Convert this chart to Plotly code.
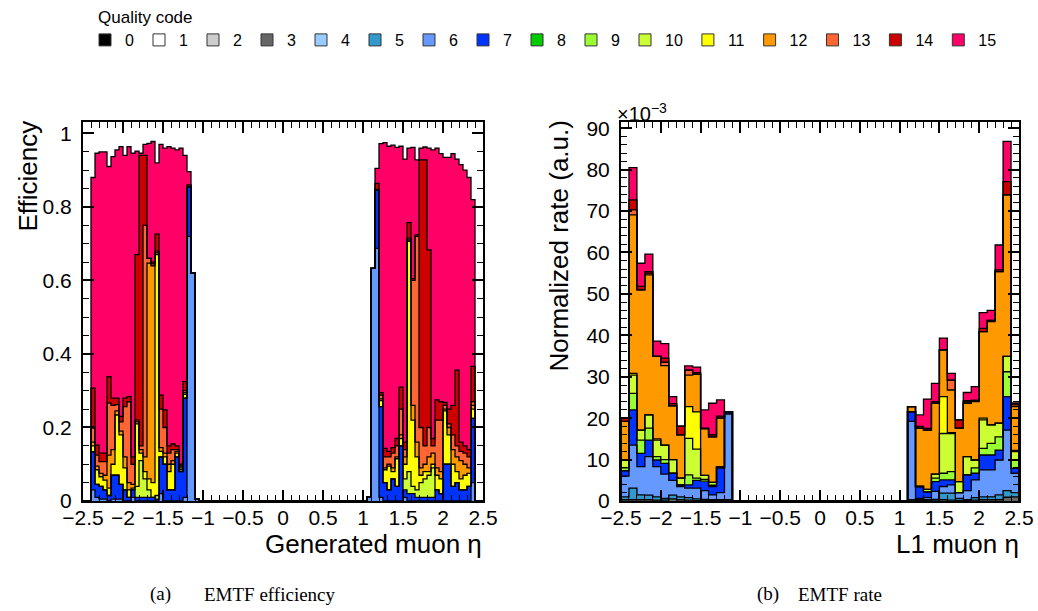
import numpy as np
import plotly.graph_objects as go

# ---------------- colours of the quality codes ----------------
QUALITY_CODES = list(range(16))
QUALITY_COLORS = ["#000000", "#ffffff", "#cccccc", "#666666", "#99ccff", "#3399cc",
                  "#6699ff", "#0033ff", "#00cc00", "#99ff33", "#ccff33", "#ffff00",
                  "#ff9900", "#ff6633", "#cc0000", "#ff0066"]

# ---------------- (a) efficiency: 0.05 wide bins, lower bin edges ----------------
EFF_BIN_WIDTH = 0.05
EFF_ETA = [-2.40, -2.35, -2.30, -2.25, -2.20, -2.15, -2.10, -2.05, -2.00, -1.95,
           -1.90, -1.85, -1.80, -1.75, -1.70, -1.65, -1.60, -1.55, -1.50, -1.45,
           -1.40, -1.35, -1.30, -1.25, -1.20, -1.15, -1.10,
           1.05, 1.10, 1.15, 1.20, 1.25, 1.30, 1.35, 1.40, 1.45, 1.50,
           1.55, 1.60, 1.65, 1.70, 1.75, 1.80, 1.85, 1.90, 1.95, 2.00,
           2.05, 2.10, 2.15, 2.20, 2.25, 2.30, 2.35]
# stack level (cumulative efficiency) reached after each quality code
EFF_UPTO_Q6 = [.03, .01, .005, .005, 0, .005, .005, .005, 0, 0,
               .01, 0, 0, 0, 0, 0, 0, .02, 0, 0,
               0, 0, 0, .01, .72, .62, .006,
               .012, .633, .687, .01, 0, 0, 0, 0, 0, .01,
               0, 0, 0, 0, 0, 0, 0, 0, 0, 0,
               0, 0, 0, 0, 0, 0, .05]
EFF_UPTO_Q7 = [.134, .045, .04, .03, .015, .07, .07, .045, .03, .01,
               .03, .01, .01, .01, .01, .01, .005, .12, .10, .03,
               .03, .12, .08, .28, .855, .62, .006,
               .012, .633, .846, .257, .05, .03, .06, .04, .15, .03,
               .02, .02, .01, .01, .01, .01, .01, .03, .02, .10,
               .10, .04, .05, .03, .03, .04, .225]
EFF_UPTO_Q10 = [.134, .045, .04, .03, .015, .07, .07, .045, .03, .01,
                .03, .04, .11, .06, .03, .01, .015, .12, .10, .03,
                .03, .12, .08, .28, .855, .62, .006,
                .012, .633, .846, .257, .05, .03, .06, .04, .15, .06,
                .08, .04, .03, .05, .06, .07, .09, .03, .02, .10,
                .10, .04, .05, .03, .03, .04, .225]
EFF_UPTO_Q11 = [.15, .085, .066, .057, .035, .10, .234, .18, .09, .03,
                .035, .21, .13, .08, .06, .05, .67, .135, .12, .08,
                .10, .13, .085, .29, .855, .62, .006,
                .012, .633, .846, .273, .085, .095, .08, .115, .17, .10,
                .706, .22, .12, .07, .08, .08, .10, .07, .06, .245,
                .18, .10, .08, .06, .07, .075, .25]
EFF_UPTO_Q12 = [.16, .095, .075, .07, .125, .14, .245, .19, .12, .05,
                .045, .215, .14, .12, .647, .64, .675, .145, .13, .10,
                .11, .135, .09, .295, .855, .62, .006,
                .012, .633, .846, .278, .09, .10, .09, .12, .18, .12,
                .71, .26, .16, .09, .10, .12, .13, .09, .08, .25,
                .20, .14, .12, .11, .10, .09, .26]
EFF_UPTO_Q13 = [.198, .125, .107, .107, .266, .26, .262, .215, .257, .27,
                .10, .22, .15, .75, .66, .645, .68, .25, .20, .13,
                .14, .14, .095, .30, .855, .62, .006,
                .012, .633, .846, .288, .12, .12, .13, .15, .25, .14,
                .715, .60, .72, .20, .15, .20, .15, .22, .22, .26,
                .21, .18, .15, .135, .13, .12, .27]
EFF_UPTO_Q14 = [.307, .152, .13, .13, .338, .28, .28, .23, .28, .284,
                .12, .67, .94, .94, .66, .65, .726, .288, .248, .15,
                .155, .15, .10, .325, .86, .62, .006,
                .012, .633, .864, .295, .143, .135, .145, .17, .31, .16,
                .757, .605, .724, .928, .928, .683, .17, .275, .27, .268,
                .25, .26, .356, .16, .15, .14, .366]
EFF_UPTO_Q15 = [.88, .946, .95, .95, .91, .937, .955, .964, .94, .964,
                .946, .952, .946, .97, .973, .978, .92, .97, .96, .964,
                .96, .955, .96, .94, .896, .62, .006,
                .012, .633, .905, .972, .975, .965, .968, .962, .965, .93,
                .96, .962, .928, .96, .963, .96, .955, .96, .945, .935,
                .935, .945, .93, .915, .90, .88, .82]

# ---------------- (b) rate (units of 1e-3): 0.1 wide bins, lower bin edges ----------------
RATE_BIN_WIDTH = 0.1
RATE_ETA = [-2.5, -2.4, -2.3, -2.2, -2.1, -2.0, -1.9, -1.8, -1.7, -1.6, -1.5, -1.4, -1.3, -1.2,
            1.1, 1.2, 1.3, 1.4, 1.5, 1.6, 1.7, 1.8, 1.9, 2.0, 2.1, 2.2, 2.3, 2.4]
RATE_UPTO_Q3 = [.3, .3, .3, .3, .2, .2, .5, .3, .2, .1, .1, .1, .1, 0,
                0, .1, .1, .2, .3, .2, .1, .1, .2, .3, .3, .3, .9, 1.0]
RATE_UPTO_Q5 = [1.0, 3.1, 1.5, 1.4, 1.0, .6, 1.4, 1.0, .8, .5, .4, .3, .3, .3,
                .3, .3, .3, .4, 1.9, 1.9, .6, .3, .8, 1.0, 1.0, 1.5, 2.5, 2.0]
RATE_UPTO_Q6 = [6.0, 13.5, 8.3, 10.7, 8.3, 6.5, 5.0, 3.5, 3.1, 3.1, 2.5, 1.5, 2.0, 21.0,
                19.2, .6, .8, 2.3, 3.5, 3.9, 2.0, 2.5, 5.1, 7.5, 7.5, 9.9, 17.1, 6.7]
RATE_UPTO_Q7 = [7.3, 22.0, 11.5, 14.7, 9.9, 9.1, 6.7, 3.9, 3.9, 5.0, 4.8, 3.5, 8.0, 21.6,
                21.6, 3.5, 2.2, 4.7, 5.1, 5.1, 2.0, 6.3, 6.7, 11.1, 11.1, 12.3, 25.2, 7.9]
RATE_UPTO_Q9 = [8.0, 26.0, 14.7, 17.6, 10.7, 10.0, 6.7, 3.9, 6.3, 5.5, 5.2, 3.8, 8.0, 21.6,
                21.6, 3.5, 2.2, 5.5, 6.7, 7.1, 2.0, 6.3, 8.0, 12.7, 13.9, 15.5, 31.2, 9.9]
RATE_UPTO_Q10 = [9.9, 30.4, 17.1, 20.8, 14.7, 13.5, 10.0, 5.5, 15.1, 12.5, 6.2, 4.5, 8.3, 21.6,
                 21.6, 3.5, 2.8, 6.5, 16.3, 16.3, 4.7, 10.7, 9.9, 19.6, 18.4, 18.8, 34.9, 11.9]
RATE_UPTO_Q11 = [9.9, 30.8, 17.1, 20.8, 15.0, 13.5, 10.0, 5.5, 22.8, 21.5, 6.2, 4.5, 8.3, 21.6,
                 21.6, 3.5, 2.8, 6.5, 25.2, 16.5, 4.7, 10.7, 9.9, 20.0, 18.4, 18.8, 34.9, 12.2]
RATE_UPTO_Q12 = [19.2, 69.1, 51.0, 54.6, 34.9, 32.7, 23.0, 16.0, 30.4, 30.6, 17.5, 15.5, 20.0, 21.6,
                 22.8, 17.6, 17.1, 23.6, 36.5, 26.8, 17.6, 23.6, 24.0, 40.9, 43.3, 55.4, 73.9, 22.8]
RATE_UPTO_Q13 = [19.2, 70.3, 51.0, 55.0, 34.9, 33.5, 23.0, 16.0, 31.6, 30.6, 17.5, 15.5, 20.0, 21.6,
                 22.8, 17.6, 17.1, 23.6, 36.5, 29.2, 17.6, 23.9, 24.3, 40.9, 43.6, 55.4, 73.9, 23.2]
RATE_UPTO_Q14 = [20.0, 72.7, 51.8, 55.4, 34.9, 34.5, 23.5, 18.1, 31.6, 31.0, 17.5, 16.0, 20.5, 21.6,
                 22.8, 18.0, 17.5, 24.0, 36.5, 29.2, 19.6, 24.2, 24.3, 41.7, 43.6, 55.8, 77.1, 23.6]
RATE_UPTO_Q15 = [20.0, 80.5, 57.4, 59.6, 38.6, 38.0, 25.2, 18.1, 32.6, 32.3, 22.0, 23.6, 24.4, 21.6,
                 22.8, 20.8, 24.6, 28.4, 39.3, 30.8, 19.6, 26.2, 27.6, 45.5, 46.0, 61.8, 86.8, 23.6]

# ---------------- text ----------------
LEGEND_TITLE = "Quality code"
EFF_XTITLE = "Generated muon η"
EFF_YTITLE = "Efficiency"
RATE_XTITLE = "L1 muon η"
RATE_YTITLE = "Normalized rate (a.u.)"
RATE_EXPONENT = "×10<sup>−3</sup>"
CAPTION_A = ("(a)", "EMTF efficiency")
CAPTION_B = ("(b)", "EMTF rate")

FONT = "Liberation Sans"


def full_levels(eta_lo, levels_by_q, width):
    """Put the stack levels of the filled bins into a full -2.5..2.5 histogram."""
    nb = int(round(5.0 / width))
    edges = -2.5 + width * np.arange(nb + 1)
    out = {}
    for q, lev in levels_by_q.items():
        arr = np.zeros(nb)
        for e, v in zip(eta_lo, lev):
            arr[int(round((e + 2.5) / width))] = v
        out[q] = arr
    return edges, out


def add_stack(fig, eta_lo, levels_by_q, width, xaxis, yaxis):
    edges, lev = full_levels(eta_lo, levels_by_q, width)
    centers = 0.5 * (edges[:-1] + edges[1:])
    qs = sorted(lev)
    prev = np.zeros(len(centers))
    for q in qs:
        content = np.clip(lev[q] - prev, 0, None)
        fig.add_trace(go.Bar(x=centers, y=content, width=width, xaxis=xaxis, yaxis=yaxis,
                             marker=dict(color=QUALITY_COLORS[q], line=dict(width=0)),
                             showlegend=False, hoverinfo="skip", legendgroup=str(q)))
        prev = np.maximum(prev, lev[q])
    # ROOT-like step outline of each stack level
    for q in qs:
        c = lev[q]
        xs = [edges[0]] + list(edges[:-1]) + [edges[-1], edges[-1]]
        ys = [0.0] + list(c) + [c[-1], 0.0]
        fig.add_trace(go.Scatter(x=xs, y=ys, mode="lines", line=dict(color="black", width=1.3, shape="hv"),
                                 xaxis=xaxis, yaxis=yaxis, showlegend=False, hoverinfo="skip"))


fig = go.Figure()

# legend entries (one per quality code)
for q in QUALITY_CODES:
    fig.add_trace(go.Bar(x=[None], y=[None], name=str(q), xaxis="x", yaxis="y",
                         marker=dict(color=QUALITY_COLORS[q], line=dict(color="#333333", width=1)),
                         legendgroup=str(q), showlegend=True))

add_stack(fig, EFF_ETA, {6: EFF_UPTO_Q6, 7: EFF_UPTO_Q7, 10: EFF_UPTO_Q10, 11: EFF_UPTO_Q11,
                         12: EFF_UPTO_Q12, 13: EFF_UPTO_Q13, 14: EFF_UPTO_Q14, 15: EFF_UPTO_Q15},
          EFF_BIN_WIDTH, "x", "y")
add_stack(fig, RATE_ETA, {3: RATE_UPTO_Q3, 5: RATE_UPTO_Q5, 6: RATE_UPTO_Q6, 7: RATE_UPTO_Q7,
                          9: RATE_UPTO_Q9, 10: RATE_UPTO_Q10, 11: RATE_UPTO_Q11, 12: RATE_UPTO_Q12,
                          13: RATE_UPTO_Q13, 14: RATE_UPTO_Q14, 15: RATE_UPTO_Q15},
          RATE_BIN_WIDTH, "x2", "y2")

W, H = 1038, 611
X1 = (83 / W, 483 / W)
X2 = (621 / W, 1019 / W)
YD = (1 - 501 / H, 1 - 122 / H)

tickfont = dict(family=FONT, size=21, color="black")
common_x = dict(range=[-2.5, 2.5], dtick=0.5, tick0=-2.5, ticks="inside", ticklen=11, tickwidth=1.5,
                tickcolor="black", showline=True, linewidth=2, linecolor="black", mirror="allticks",
                showgrid=False, zeroline=False, tickfont=tickfont, automargin=False, ticklabelstandoff=-3,
                minor=dict(dtick=0.1, tick0=-2.5, ticks="inside", ticklen=6, tickwidth=1.2, tickcolor="black"))
common_y = dict(ticks="inside", ticklen=11, tickwidth=1.5, tickcolor="black", showline=True, linewidth=2,
                linecolor="black", mirror="allticks", showgrid=False, zeroline=False, tickfont=tickfont,
                automargin=False, ticklabelstandoff=5)

annotations = [
    dict(text=LEGEND_TITLE, xref="paper", yref="paper", x=96 / W, y=1 - 18 / H,
         xanchor="left", yanchor="middle", showarrow=False, font=dict(family=FONT, size=17)),
    dict(text=EFF_YTITLE, textangle=-90, xref="paper", yref="paper", x=27 / W, y=1 - 119 / H,
         xanchor="center", yanchor="top", showarrow=False, font=dict(family=FONT, size=26)),
    dict(text=RATE_YTITLE, textangle=-90, xref="paper", yref="paper", x=558 / W, y=1 - 119 / H,
         xanchor="center", yanchor="top", showarrow=False, font=dict(family=FONT, size=26)),
    dict(text=EFF_XTITLE, xref="paper", yref="paper", x=484 / W, y=1 - 544 / H,
         xanchor="right", yanchor="middle", showarrow=False, font=dict(family=FONT, size=26)),
    dict(text=RATE_XTITLE, xref="paper", yref="paper", x=1021 / W, y=1 - 544 / H,
         xanchor="right", yanchor="middle", showarrow=False, font=dict(family=FONT, size=26)),
    dict(text=RATE_EXPONENT, xref="paper", yref="paper", x=615 / W, y=1 - 113 / H,
         xanchor="left", yanchor="middle", showarrow=False, font=dict(family=FONT, size=20)),
]
for (tag, txt), x_tag, x_txt in ((CAPTION_A, 148, 202), (CAPTION_B, 755, 796)):
    annotations.append(dict(text=tag, xref="paper", yref="paper", x=x_tag / W, y=1 - 594 / H,
                            xanchor="left", yanchor="middle", showarrow=False,
                            font=dict(family="Liberation Serif", size=19)))
    annotations.append(dict(text=txt, xref="paper", yref="paper", x=x_txt / W, y=1 - 594 / H,
                            xanchor="left", yanchor="middle", showarrow=False,
                            font=dict(family="Liberation Serif", size=19)))

fig.update_layout(
    width=W, height=H, margin=dict(l=0, r=0, t=0, b=0, autoexpand=False),
    paper_bgcolor="white", plot_bgcolor="white",
    barmode="stack", bargap=0,
    font=dict(family=FONT, color="black"),
    xaxis=dict(domain=X1, anchor="y", **common_x),
    yaxis=dict(domain=YD, anchor="x", range=[0, 1.031], dtick=0.2, tick0=0,
               minor=dict(dtick=0.05, ticks="inside", ticklen=6, tickwidth=1.2, tickcolor="black"), **common_y),
    xaxis2=dict(domain=X2, anchor="y2", **common_x),
    yaxis2=dict(domain=YD, anchor="x2", range=[0, 91.5], dtick=10, tick0=0,
                minor=dict(dtick=2, ticks="inside", ticklen=6, tickwidth=1.2, tickcolor="black"), **common_y),
    legend=dict(orientation="h", x=85 / W, y=1 - 23 / H, xanchor="left", yanchor="top",
                font=dict(family=FONT, size=16), itemwidth=30, tracegroupgap=0,
                bgcolor="rgba(0,0,0,0)", traceorder="normal"),
    annotations=annotations,
)

fig.write_html("out.html")
